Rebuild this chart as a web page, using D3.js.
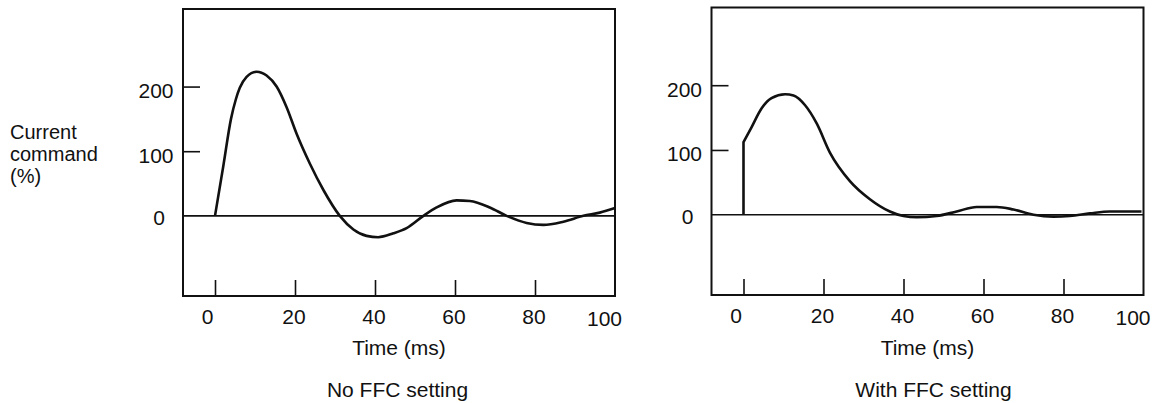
<!DOCTYPE html>
<html>
<head>
<meta charset="utf-8">
<script src="https://cdn.jsdelivr.net/npm/d3@7"></script>
<style>
  html, body { margin: 0; padding: 0; background: #fff; }
  svg { display: block; }
  text { font-family: "Liberation Sans", Arial, Helvetica, sans-serif; fill: #111; }
</style>
</head>
<body>
<svg id="chart" width="1157" height="403"></svg>
<script>
// ---- data ----
const xTickMarks = [0, 20, 40, 60, 80];
const xTickLabels = [0, 20, 40, 60, 80, 100];
const yTickMarks = [100, 200];
const yTickLabels = [0, 100, 200];

const timeNoFFC = [0, 2.1, 4, 5.2, 6.2, 7.9, 10.4, 12.9, 15.4, 17.9, 20.4, 23.7, 27.1, 31.2, 34.6, 37.9, 40.8, 44.6, 47.9, 52.1, 55.4, 60.4, 63.7, 68.7, 72.9, 77.9, 82.1, 87.1, 92.1, 96.2, 100];
const currentNoFFC = [0, 78, 150, 180, 198, 215, 223, 217, 200, 168, 127, 81, 40, 0, -21, -31, -33, -27, -19, 0, 13, 24, 23, 13, 0, -11, -14, -9, 0, 5, 12];

const timeFFC = [0, 0, 2.0, 4.5, 7.0, 10.4, 12.5, 15.4, 18.3, 21.6, 26.6, 31.6, 36.6, 40, 43.3, 48.3, 53.3, 58.3, 63.3, 67.5, 72.5, 77.5, 81.6, 86.6, 91.6, 99.5];
const currentFFC = [0, 112, 135, 164, 180, 186, 184, 169, 141, 96, 52, 24, 5, -2, -4, -2, 5, 12, 12, 8, 0, -3, -2, 2, 5, 5];

const yLabelLines = ["Current", "command", "(%)"];
const xAxisTitle = "Time (ms)";
const panelTitles = ["No FFC setting", "With FFC setting"];

// ---- layout ----
const svg = d3.select("#chart");
const FONT = 21;

const panels = [
  { left: 183, right: 615, top: 9, bottom: 296, t: timeNoFFC, v: currentNoFFC, title: panelTitles[0], titleDx: -1.5 },
  { left: 711.5, right: 1143.5, top: 7.5, bottom: 295, t: timeFFC, v: currentFFC, title: panelTitles[1], titleDx: 6 }
];

panels.forEach(p => {
  const x = d3.scaleLinear().domain([-8, 100]).range([p.left, p.right]);
  const y = d3.scaleLinear().domain([-124, 320]).range([p.bottom, p.top]);
  const g = svg.append("g");

  // frame
  g.append("rect")
    .attr("x", p.left).attr("y", p.top)
    .attr("width", p.right - p.left).attr("height", p.bottom - p.top)
    .attr("fill", "none").attr("stroke", "#111").attr("stroke-width", 2);

  // x tick marks (inward)
  const xMarks = g.append("g")
    .attr("transform", `translate(0,${p.bottom})`)
    .call(d3.axisBottom(x).tickValues(xTickMarks).tickSize(-16).tickFormat(""));
  xMarks.select(".domain").remove();
  xMarks.selectAll(".tick line").attr("stroke", "#111").attr("stroke-width", 1.6);

  // x tick labels
  const xLabs = g.append("g")
    .attr("transform", `translate(0,${p.bottom})`)
    .call(d3.axisBottom(x).tickValues(xTickLabels).tickSize(0).tickPadding(10).tickFormat(d3.format("d")));
  xLabs.select(".domain").remove();
  xLabs.selectAll(".tick text")
    .attr("font-size", FONT)
    .attr("fill", "#111")
    .attr("dx", d => d === 0 ? -8 : d === 100 ? -11 : -1.5)
    .attr("dy", d => d === 100 ? "0.95em" : "0.85em");

  // y tick marks (inward)
  const yMarks = g.append("g")
    .attr("transform", `translate(${p.left},0)`)
    .call(d3.axisLeft(y).tickValues(yTickMarks).tickSize(-17).tickFormat(""));
  yMarks.select(".domain").remove();
  yMarks.selectAll(".tick line").attr("stroke", "#111").attr("stroke-width", 1.6);

  // y tick labels
  const yLabs = g.append("g")
    .attr("transform", `translate(${p.left},0)`)
    .call(d3.axisLeft(y).tickValues(yTickLabels).tickSize(0).tickPadding(0).tickFormat(d3.format("d")));
  yLabs.select(".domain").remove();
  yLabs.selectAll(".tick text")
    .attr("font-size", FONT)
    .attr("fill", "#111")
    .attr("text-anchor", "middle")
    .attr("x", d => d === 0 ? -24 : -27)
    .attr("dy", d => d === 0 ? 9 : 11);

  // zero line
  g.append("line")
    .attr("x1", p.left).attr("x2", p.right)
    .attr("y1", y(0)).attr("y2", y(0))
    .attr("stroke", "#111").attr("stroke-width", 1.6);

  // curve: straight vertical step where time repeats, smooth elsewhere
  const pts = p.t.map((t, i) => [t, p.v[i]]);
  let start = 0;
  while (start + 1 < pts.length && pts[start + 1][0] === pts[start][0]) start++;
  const lineGen = d3.line().x(d => x(d[0])).y(d => y(d[1]));
  let dStr = "";
  if (start > 0) {
    dStr += lineGen.curve(d3.curveLinear)(pts.slice(0, start + 1));
  }
  const smooth = lineGen.curve(d3.curveMonotoneX)(pts.slice(start));
  dStr += start > 0 ? smooth.replace(/^M/, "L") : smooth;
  g.append("path")
    .attr("fill", "none")
    .attr("stroke", "#111")
    .attr("stroke-width", 2.6)
    .attr("stroke-linejoin", "round")
    .attr("d", dStr);

  // axis title
  g.append("text")
    .attr("x", (p.left + p.right) / 2)
    .attr("y", 355)
    .attr("text-anchor", "middle")
    .attr("font-size", FONT)
    .text(xAxisTitle);

  // panel title
  g.append("text")
    .attr("x", (p.left + p.right) / 2 + p.titleDx)
    .attr("y", 397)
    .attr("text-anchor", "middle")
    .attr("font-size", FONT)
    .text(p.title);
});

// y-axis title (left)
yLabelLines.forEach((s, i) => {
  svg.append("text")
    .attr("font-size", 20)
    .attr("x", 10)
    .attr("y", 138.5 + i * 22)
    .text(s);
});
</script>
</body>
</html>
